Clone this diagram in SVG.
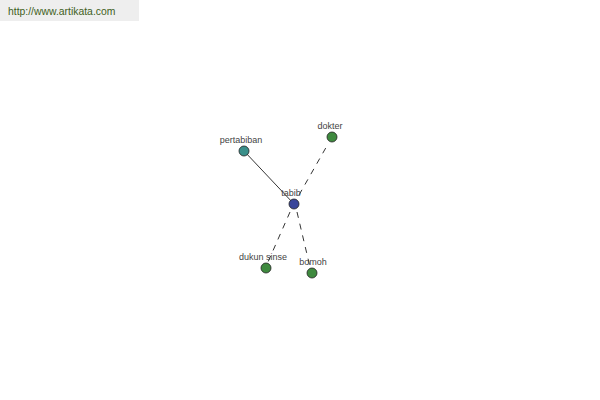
<svg xmlns="http://www.w3.org/2000/svg" width="600" height="400" viewBox="0 0 600 400">
<style>
.lbl{font-family:"Liberation Sans",Arial,sans-serif;font-size:9px;fill:#444;text-anchor:middle}
.node{stroke:#222;stroke-width:0.8}
.solid{stroke:#000;stroke-width:0.8;fill:none}
.dash{stroke:#000;stroke-width:0.8;fill:none;stroke-dasharray:6,6}
</style>
<rect x="0" y="0" width="600" height="400" fill="#fff"/>
<g id="header">
<rect x="0" y="0" width="139" height="21" fill="#eeeeee"/>
<text x="8" y="15" font-family="Liberation Sans,Arial,sans-serif" font-size="10.4" fill="#3f5f22">http://www.artikata.com</text>
</g>
<g id="connectors">
<line class="solid" x1="244" y1="151" x2="294" y2="204"/>
<line class="dash" x1="299" y1="195" x2="328" y2="144"/>
<line class="dash" x1="290" y1="212" x2="268" y2="262"/>
<line class="dash" x1="297" y1="212" x2="310" y2="267"/>
</g>
<g id="node-pertabiban">
<circle class="node" cx="244" cy="151" r="5" fill="#3a8f8a"/>
<text class="lbl" x="241" y="143">pertabiban</text>
</g>
<g id="node-dokter">
<circle class="node" cx="332" cy="137" r="5" fill="#3f8a3f"/>
<text class="lbl" x="330" y="129">dokter</text>
</g>
<g id="node-tabib">
<circle class="node" cx="294" cy="204" r="5" fill="#3a469a"/>
<text class="lbl" x="291" y="196">tabib</text>
</g>
<g id="node-dukun-sinse">
<circle class="node" cx="266" cy="268" r="5" fill="#3f8a3f"/>
<text class="lbl" x="263" y="260">dukun sinse</text>
</g>
<g id="node-bomoh">
<circle class="node" cx="312" cy="273" r="5" fill="#3f8a3f"/>
<text class="lbl" x="313" y="265">bomoh</text>
</g>
</svg>
